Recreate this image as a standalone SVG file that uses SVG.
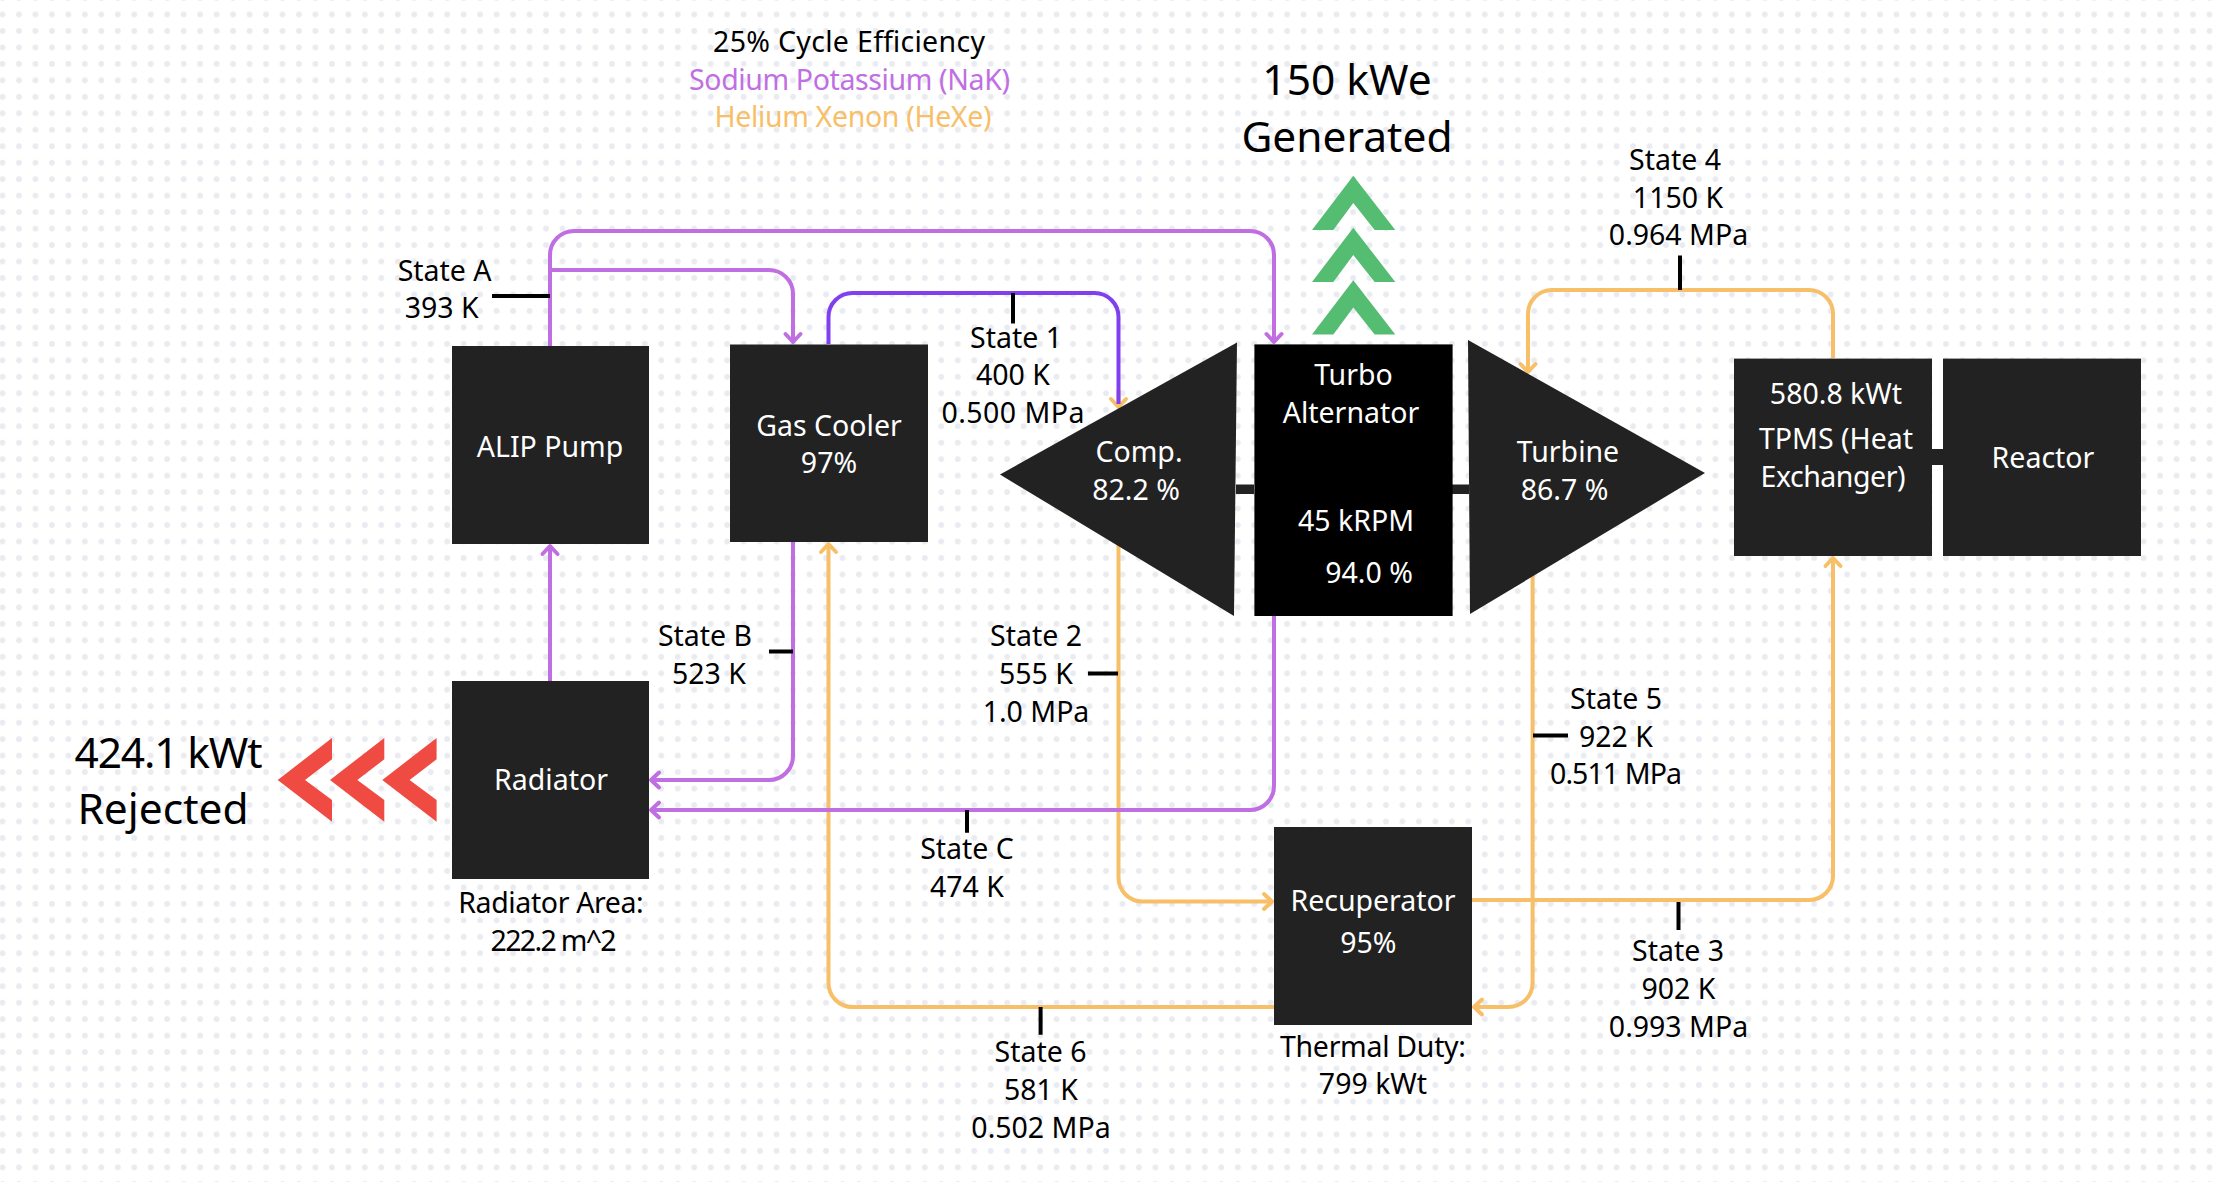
<svg xmlns="http://www.w3.org/2000/svg" width="2220" height="1182" viewBox="0 0 2220 1182">
<style>
text{font-family:"Noto Sans","Open Sans","Liberation Sans",sans-serif;font-size:28.5px;text-anchor:middle;fill:#000;transform:translate(0,.8px)}
.w{fill:#fff}
.big{font-size:42.5px}
.box{fill:#222222}
.line{fill:none;stroke-width:4}
.nak{stroke:#c06fe3}
.hexe{stroke:#f7bf68}
.tick{stroke:#000;stroke-width:4;fill:none}
</style>
<defs>
<pattern id="dots" x="2.5" y="-2" width="16.47" height="16.47" patternUnits="userSpaceOnUse"><circle cx="0" cy="0" r="2.9" fill="#e9ebf1"/><circle cx="16.47" cy="0" r="2.9" fill="#e9ebf1"/><circle cx="0" cy="16.47" r="2.9" fill="#e9ebf1"/><circle cx="16.47" cy="16.47" r="2.9" fill="#e9ebf1"/></pattern>
<marker id="ap" markerUnits="userSpaceOnUse" markerWidth="24" markerHeight="24" refX="11" refY="12" orient="auto"><path d="M3 4.5L11 12L3 19.5" fill="none" stroke="#c06fe3" stroke-width="4" stroke-linecap="round" stroke-linejoin="round"/></marker>
<marker id="ao" markerUnits="userSpaceOnUse" markerWidth="24" markerHeight="24" refX="11" refY="12" orient="auto"><path d="M3 4.5L11 12L3 19.5" fill="none" stroke="#f7bf68" stroke-width="4" stroke-linecap="round" stroke-linejoin="round"/></marker>
<path id="chev-g" d="M1353.3 175.700L1395.300 230H1374.700L1353.300 203L1333.300 230H1312Z" fill="#55bd72"/>
<path id="chev-r" d="M277.700 780L332 738V759.300L305 780L332 800V821.700Z" fill="#ef4b42"/>
</defs>
<rect width="2220" height="1182" fill="#fff"/>
<rect width="2220" height="1182" fill="url(#dots)"/>
<g id="connectors">
<path class="line nak" d="M550 346V255A24 24 0 0 1 574 231H1250A24 24 0 0 1 1274 255V342" marker-end="url(#ap)"/>
<path class="line nak" d="M550 270H769A24 24 0 0 1 793 294V342" marker-end="url(#ap)"/>
<path class="line nak" d="M550 681V546" marker-end="url(#ap)"/>
<path class="line hexe" d="M1118.500 390V407" marker-end="url(#ao)"/>
<path class="line" stroke="#8040ef" d="M828.500 344V317A24 24 0 0 1 852.500 293H1094.500A24 24 0 0 1 1118.500 317V404"/>
<path class="line nak" d="M793 542V756A24 24 0 0 1 769 780H651" marker-end="url(#ap)"/>
<path class="line hexe" d="M1274 1007H852.500A24 24 0 0 1 828.500 983V544" marker-end="url(#ao)"/>
<path class="line hexe" d="M1118.500 540V877.500A24 24 0 0 0 1142.500 901.500H1272" marker-end="url(#ao)"/>
<path class="line nak" d="M1274 616V786A24 24 0 0 1 1250 810H651" marker-end="url(#ap)"/>
<path class="line hexe" d="M1833 358V314A24 24 0 0 0 1809 290H1552A24 24 0 0 0 1528 314V372" marker-end="url(#ao)"/>
<path class="line hexe" d="M1532.600 560V983A24 24 0 0 1 1508.600 1007H1474" marker-end="url(#ao)"/>
<path class="line hexe" d="M1472 900H1809A24 24 0 0 0 1833 876V558" marker-end="url(#ao)"/>
<path class="tick" d="M492 296H550M1013 293V323.400M1680 255.600V290M769 651.600H793M1088 673.500H1118M967 810V832.700M1040.600 1007V1034.700M1533 735.500H1568M1678.500 902V930"/>
<rect class="box" x="1236" y="484.500" width="18" height="9.500"/>
<rect class="box" x="1452" y="484.500" width="17" height="9.500"/>
<rect class="box" x="1932" y="449" width="11" height="16"/>
</g>
<g id="legend">
<text x="849" y="51" textLength="272">25% Cycle Efficiency</text>
<text x="849.500" y="89" textLength="321" style="fill:#c06fe3">Sodium Potassium (NaK)</text>
<text x="853" y="126.700" textLength="277" style="fill:#f7bf68">Helium Xenon (HeXe)</text>
</g>
<g id="generated">
<text class="big" x="1347" y="94.500">150 kWe</text>
<text class="big" x="1347" y="151">Generated</text>
<use href="#chev-g"/><use href="#chev-g" y="52"/><use href="#chev-g" y="104.600"/>
</g>
<g id="rejected">
<text class="big" x="168.500" y="767" textLength="188">424.1 kWt</text>
<text class="big" x="163" y="823">Rejected</text>
<use href="#chev-r"/><use href="#chev-r" x="52.300"/><use href="#chev-r" x="104.600"/>
</g>
<g id="alip-pump"><rect class="box" x="452" y="346" width="197" height="198"/><text class="w" x="550" y="456">ALIP Pump</text></g>
<g id="gas-cooler"><rect class="box" x="730" y="344.500" width="198" height="197.500"/><text class="w" x="829" y="435">Gas Cooler</text><text class="w" x="829" y="472.600">97%</text></g>
<g id="radiator"><rect class="box" x="452" y="681" width="197" height="198"/><text class="w" x="551" y="789.400">Radiator</text><text x="551" y="912.600" textLength="185.500">Radiator Area:</text><text x="553.600" y="950" textLength="126">222.2 m^2</text></g>
<g id="compressor"><path class="box" d="M1000 474.500L1237 342.500L1234 616Z"/><text class="w" x="1139" y="461.500">Comp.</text><text class="w" x="1136" y="499.500">82.2 %</text></g>
<g id="turbo-alternator"><rect x="1254.400" y="344.400" width="198.200" height="271.600" fill="#000"/><text class="w" x="1353.500" y="384.600">Turbo</text><text class="w" x="1351" y="422">Alternator</text><text class="w" x="1356" y="530">45 kRPM</text><text class="w" x="1369" y="582.500">94.0 %</text></g>
<g id="turbine"><path class="box" d="M1468 340L1705 473L1470 614Z"/><text class="w" x="1568" y="461.500">Turbine</text><text class="w" x="1564.500" y="499.500">86.7 %</text></g>
<g id="tpms"><rect class="box" x="1734" y="358.600" width="198" height="197.400"/><text class="w" x="1836" y="403.700">580.8 kWt</text><text class="w" x="1836" y="448.500">TPMS (Heat</text><text class="w" x="1833" y="486.400" textLength="145">Exchanger)</text></g>
<g id="reactor"><rect class="box" x="1943" y="358.600" width="198" height="197.400"/><text class="w" x="2043" y="467.700">Reactor</text></g>
<g id="recuperator"><rect class="box" x="1274" y="827" width="198" height="198"/><text class="w" x="1373" y="910.700">Recuperator</text><text class="w" x="1368.400" y="952">95%</text><text x="1373" y="1055.800" textLength="186">Thermal Duty:</text><text x="1373" y="1093">799 kWt</text></g>
<g id="state-labels">
<text x="444.600" y="280">State A</text><text x="441.700" y="317">393 K</text>
<text x="1016" y="347">State 1</text><text x="1013" y="384">400 K</text><text x="1013" y="422" textLength="143">0.500 MPa</text>
<text x="1675" y="169">State 4</text><text x="1678" y="207">1150 K</text><text x="1678.500" y="244">0.964 MPa</text>
<text x="705" y="645.500">State B</text><text x="709" y="683.400">523 K</text>
<text x="1036" y="645.500">State 2</text><text x="1036" y="683.400">555 K</text><text x="1036" y="721.300">1.0 MPa</text>
<text x="967" y="858">State C</text><text x="967" y="896">474 K</text>
<text x="1040.600" y="1061.500">State 6</text><text x="1041" y="1099.400">581 K</text><text x="1041" y="1137">0.502 MPa</text>
<text x="1616" y="708">State 5</text><text x="1616" y="746">922 K</text><text x="1616" y="783.300" textLength="132">0.511 MPa</text>
<text x="1678" y="960.500">State 3</text><text x="1678.500" y="998.400">902 K</text><text x="1678.500" y="1036.300">0.993 MPa</text>
</g>
</svg>
